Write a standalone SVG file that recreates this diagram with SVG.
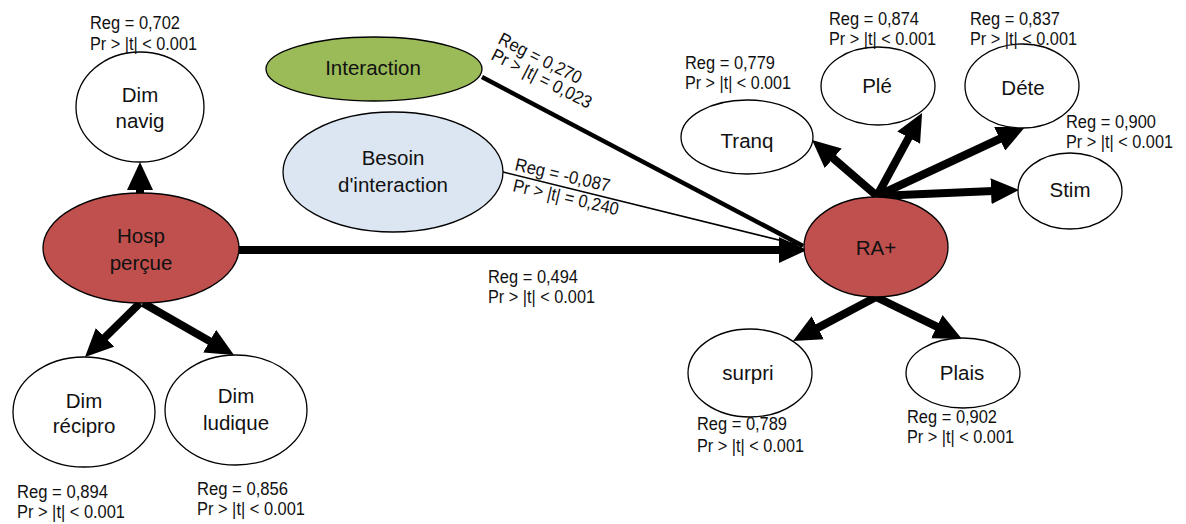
<svg xmlns="http://www.w3.org/2000/svg" width="1186" height="524" viewBox="0 0 1186 524">
<style>
.n{stroke:#000;stroke-width:1.3;fill:#fff}
.red{fill:#C0504D}
.green{fill:#9BBB59}
.blue{fill:#DCE6F2}
.t{font-family:"Liberation Sans",Arial,sans-serif;font-size:20.5px;fill:#111;text-anchor:middle}
.s{font-family:"Liberation Sans",Arial,sans-serif;font-size:18px;fill:#111}
.a{stroke:#000;stroke-width:8;fill:none}
</style>
<defs>
<marker id="ah" markerUnits="userSpaceOnUse" markerWidth="30" markerHeight="26" refX="8" refY="13" orient="auto" viewBox="0 0 30 26">
<path d="M0,0 L28,13 L0,26 z" fill="#000"/>
</marker>
</defs>
<rect width="1186" height="524" fill="#fff"/>
<g id="connectors">
<line class="a" x1="239" y1="250" x2="787" y2="250" marker-end="url(#ah)"/>
<line class="a" x1="140" y1="194" x2="140" y2="182" marker-end="url(#ah)"/>
<line class="a" x1="140" y1="303" x2="99.3" y2="343" marker-end="url(#ah)"/>
<line class="a" x1="143" y1="303" x2="216.6" y2="345.1" marker-end="url(#ah)"/>
<line class="a" x1="877" y1="196" x2="827.2" y2="153.1" marker-end="url(#ah)"/>
<line class="a" x1="877" y1="196" x2="912.5" y2="130.6" marker-end="url(#ah)"/>
<line class="a" x1="877" y1="196" x2="1006.9" y2="135.5" marker-end="url(#ah)"/>
<line class="a" x1="877" y1="196" x2="999" y2="190.8" marker-end="url(#ah)"/>
<line class="a" x1="876" y1="297" x2="810.7" y2="331.6" marker-end="url(#ah)"/>
<line class="a" x1="876" y1="297" x2="944" y2="330.2" marker-end="url(#ah)"/>
<line x1="482" y1="77" x2="803" y2="246" stroke="#000" stroke-width="4.5"/>
<line x1="503" y1="172" x2="803" y2="246" stroke="#000" stroke-width="1.5"/>
<g class="s">
<text x="497" y="43" transform="rotate(27 497 43)" textLength="91" lengthAdjust="spacingAndGlyphs">Reg = 0,270</text>
<text x="490" y="59" transform="rotate(27 490 59)" textLength="110" lengthAdjust="spacingAndGlyphs">Pr &gt; |t| = 0,023</text>
<text x="514" y="170" transform="rotate(13 514 170)" textLength="97" lengthAdjust="spacingAndGlyphs">Reg = -0,087</text>
<text x="512" y="191" transform="rotate(13 512 191)" textLength="108" lengthAdjust="spacingAndGlyphs">Pr &gt; |t| = 0,240</text>
<text x="488" y="283" textLength="90" lengthAdjust="spacingAndGlyphs">Reg = 0,494</text>
<text x="488" y="303" textLength="107" lengthAdjust="spacingAndGlyphs">Pr &gt; |t| &lt; 0.001</text>
</g>
</g>
<g id="dim-navig">
<ellipse class="n" cx="140" cy="107" rx="64" ry="55"/>
<text class="t" x="140" y="102">Dim</text>
<text class="t" x="140" y="128">navig</text>
<text class="s" x="90" y="29" textLength="90" lengthAdjust="spacingAndGlyphs">Reg = 0,702</text>
<text class="s" x="90" y="50" textLength="107" lengthAdjust="spacingAndGlyphs">Pr &gt; |t| &lt; 0.001</text>
</g>
<g id="hosp">
<ellipse class="n red" cx="141" cy="248" rx="98" ry="55"/>
<text class="t" x="141" y="243">Hosp</text>
<text class="t" x="141" y="270">perçue</text>
</g>
<g id="dim-recipro">
<ellipse class="n" cx="84" cy="412" rx="71" ry="55"/>
<text class="t" x="84" y="408">Dim</text>
<text class="t" x="84" y="433">récipro</text>
<text class="s" x="17" y="498" textLength="91" lengthAdjust="spacingAndGlyphs">Reg = 0,894</text>
<text class="s" x="17" y="518" textLength="108" lengthAdjust="spacingAndGlyphs">Pr &gt; |t| &lt; 0.001</text>
</g>
<g id="dim-ludique">
<ellipse class="n" cx="236" cy="410" rx="71" ry="55"/>
<text class="t" x="236" y="403">Dim</text>
<text class="t" x="236" y="430">ludique</text>
<text class="s" x="197" y="495" textLength="91" lengthAdjust="spacingAndGlyphs">Reg = 0,856</text>
<text class="s" x="197" y="515" textLength="108" lengthAdjust="spacingAndGlyphs">Pr &gt; |t| &lt; 0.001</text>
</g>
<g id="interaction">
<ellipse class="n green" cx="374" cy="69" rx="108" ry="32"/>
<text class="t" x="373" y="75">Interaction</text>
</g>
<g id="besoin">
<ellipse class="n blue" cx="393" cy="172" rx="110" ry="60"/>
<text class="t" x="393" y="165">Besoin</text>
<text class="t" x="393" y="192">d'interaction</text>
</g>
<g id="ra">
<ellipse class="n red" cx="876" cy="247" rx="72" ry="50"/>
<text class="t" x="876" y="255">RA+</text>
</g>
<g id="tranq">
<ellipse class="n" cx="747" cy="137" rx="66" ry="37"/>
<text class="t" x="747" y="148">Tranq</text>
<text class="s" x="685" y="69" textLength="90" lengthAdjust="spacingAndGlyphs">Reg = 0,779</text>
<text class="s" x="685" y="89" textLength="106" lengthAdjust="spacingAndGlyphs">Pr &gt; |t| &lt; 0.001</text>
</g>
<g id="ple">
<ellipse class="n" cx="878" cy="86" rx="57" ry="39"/>
<text class="t" x="877" y="93">Plé</text>
<text class="s" x="829" y="25" textLength="90" lengthAdjust="spacingAndGlyphs">Reg = 0,874</text>
<text class="s" x="829" y="45" textLength="107" lengthAdjust="spacingAndGlyphs">Pr &gt; |t| &lt; 0.001</text>
</g>
<g id="dete">
<ellipse class="n" cx="1022" cy="86" rx="57" ry="42"/>
<text class="t" x="1023" y="95">Déte</text>
<text class="s" x="970" y="25" textLength="90" lengthAdjust="spacingAndGlyphs">Reg = 0,837</text>
<text class="s" x="970" y="45" textLength="107" lengthAdjust="spacingAndGlyphs">Pr &gt; |t| &lt; 0.001</text>
</g>
<g id="stim">
<ellipse class="n" cx="1070" cy="191" rx="52" ry="38"/>
<text class="t" x="1070" y="197">Stim</text>
<text class="s" x="1066" y="128" textLength="90" lengthAdjust="spacingAndGlyphs">Reg = 0,900</text>
<text class="s" x="1066" y="148" textLength="107" lengthAdjust="spacingAndGlyphs">Pr &gt; |t| &lt; 0.001</text>
</g>
<g id="surpri">
<ellipse class="n" cx="750" cy="373" rx="62" ry="44"/>
<text class="t" x="748" y="380">surpri</text>
<text class="s" x="697" y="430" textLength="90" lengthAdjust="spacingAndGlyphs">Reg = 0,789</text>
<text class="s" x="697" y="452" textLength="107" lengthAdjust="spacingAndGlyphs">Pr &gt; |t| &lt; 0.001</text>
</g>
<g id="plais">
<ellipse class="n" cx="963" cy="373" rx="57" ry="35"/>
<text class="t" x="962" y="380">Plais</text>
<text class="s" x="907" y="423" textLength="90" lengthAdjust="spacingAndGlyphs">Reg = 0,902</text>
<text class="s" x="907" y="443" textLength="107" lengthAdjust="spacingAndGlyphs">Pr &gt; |t| &lt; 0.001</text>
</g>
</svg>
